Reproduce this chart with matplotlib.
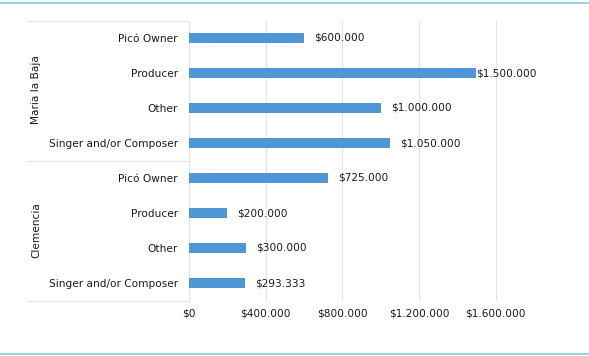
import matplotlib
matplotlib.use("Agg")
import matplotlib.pyplot as plt
from matplotlib.lines import Line2D
from matplotlib.ticker import FuncFormatter

groups = ["Maria la Baja", "Clemencia"]
categories = ["Picó Owner", "Producer", "Other", "Singer and/or Composer"]
maria_values = [600000, 1500000, 1000000, 1050000]
clemencia_values = [725000, 200000, 300000, 293333]
xticks = [0, 400000, 800000, 1200000, 1600000]

def fmt(v):
    return "$" + f"{int(round(v)):,}".replace(",", ".")

labels = categories + categories
values = maria_values + clemencia_values
ypos = list(range(len(values)))

W, H = 589, 356
fig = plt.figure(figsize=(W / 100, H / 100), dpi=100)
left_px, right_px, top_px, bot_px = 189, 534, 20.5, 300.5
ax = fig.add_axes([left_px / W, 1 - bot_px / H, (right_px - left_px) / W, (bot_px - top_px) / H])

fs = 7.6
txt = "#1a1a1a"
bar_color = "#4f96d6"
ax.barh(ypos, values, height=0.3, color=bar_color, zorder=3)
ax.set_ylim(len(values) - 0.5, -0.5)
ax.set_xlim(0, 1800000)
ax.set_xticks(xticks)
ax.xaxis.set_major_formatter(FuncFormatter(lambda v, p: fmt(v)))
ax.set_yticks(ypos)
ax.set_yticklabels(labels)
ax.tick_params(axis="both", length=0, labelsize=fs, colors=txt)
ax.tick_params(axis="y", pad=8)
ax.tick_params(axis="x", pad=6)
ax.grid(axis="x", color="#e3e3e3", linewidth=0.8, zorder=0)
for s in ["top", "right", "bottom"]:
    ax.spines[s].set_visible(False)
ax.spines["left"].set_color("#e6e6e6")
ax.spines["left"].set_linewidth(0.8)

vmax = max(values)
for y, v in zip(ypos, values):
    off = 0 if v == vmax else 10
    ax.annotate(fmt(v), xy=(v, y), xytext=(off * 0.72, 0), textcoords="offset points",
                va="center", ha="left", fontsize=fs, color=txt, zorder=4)

def fx(px):
    return px / W
def fy(py):
    return 1 - py / H

for py in [20.5, 160.5, 300.5]:
    fig.add_artist(Line2D([fx(27), fx(189)], [fy(py), fy(py)], color="#e6e6e6", linewidth=0.8))

for g, cy in zip(groups, [90, 230]):
    fig.text(fx(36), fy(cy), g, rotation=90, ha="center", va="center", fontsize=fs, color=txt)

for py in [2.5, 353.5]:
    fig.add_artist(Line2D([0, 1], [fy(py), fy(py)], color="#7fcfdc", linewidth=1.2))

fig.savefig("out.png", dpi=100)
